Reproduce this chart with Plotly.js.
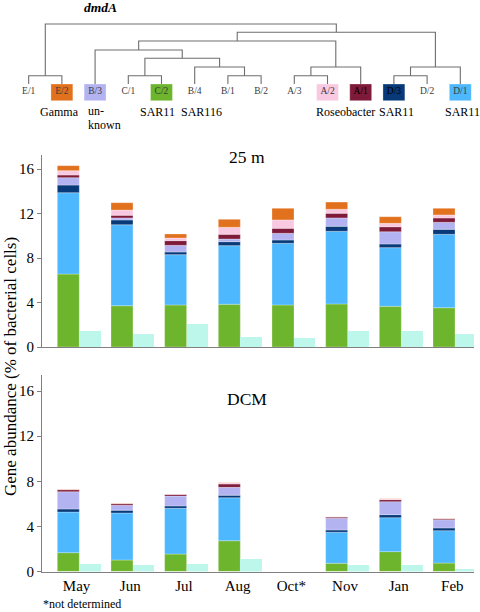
<!DOCTYPE html>
<html><head><meta charset="utf-8">
<script src="https://cdn.plot.ly/plotly-3.0.1.min.js"></script>
<style>html,body{margin:0;padding:0;background:#fff}</style>
</head><body><div id="chart" style="width:480px;height:612px"></div>
<script>
// ---------- data ----------
const months = ['May','Jun','Jul','Aug','Oct*','Nov','Jan','Feb'];
const seriesNames = ['C/2','D/1','D/3','B/3','A/1','A/2','E/2'];   // stacking order, bottom to top

// 25 m (% of bacterial cells)
const m25_C2 = [6.56,3.71,3.78,3.84,3.78,3.87,3.66,3.53];
const m25_D1 = [7.31,7.28,4.52,5.27,5.54,6.53,5.27,6.60];
const m25_D3 = [0.69,0.43,0.24,0.36,0.30,0.45,0.33,0.45];
const m25_B3 = [0.66,0.18,0.60,0.24,0.60,0.75,1.10,0.63];
const m25_A1 = [0.24,0.24,0.42,0.42,0.45,0.42,0.45,0.39];
const m25_A2 = [0.39,0.47,0.24,0.63,0.75,0.36,0.31,0.27];
const m25_E2 = [0.45,0.66,0.36,0.72,1.05,0.65,0.59,0.60];
const m25_other = [1.47,1.20,2.07,0.93,0.78,1.47,1.44,1.20];

// DCM (Oct not determined)
const dcm_C2 = [1.67,1.02,1.55,2.73,null,0.73,1.76,0.75];
const dcm_D1 = [3.60,4.17,4.05,3.81,null,2.75,3.01,2.87];
const dcm_D3 = [0.27,0.24,0.21,0.22,null,0.20,0.27,0.24];
const dcm_B3 = [1.53,0.44,0.88,0.70,null,1.04,1.15,0.73];
const dcm_A1 = [0.18,0.14,0.15,0.30,null,0.11,0.18,0.09];
const dcm_A2 = [0.04,0.04,0.02,0.11,null,0.02,0.08,0.02];
const dcm_E2 = [0.03,0.02,0.01,0.02,null,0.01,0.02,0.01];
const dcm_other = [0.69,0.60,0.69,1.08,null,0.60,0.60,0.22];

// dendrogram
const leaves = ['E/1','E/2','B/3','C/1','C/2','B/4','B/1','B/2','A/3','A/2','A/1','D/3','D/2','D/1'];
const merges = [ // [left, right, height]; result of row k is node 'n'+k
  ['E/1','E/2',8.3], ['C/1','C/2',8.3], ['B/1','B/2',8.3], ['A/3','A/2',8.3], ['D/3','D/2',8.3],
  ['B/4','n2',17], ['n3','A/1',17], ['n4','D/1',17],
  ['n1','n5',25.7], ['B/3','n8',34], ['n9','n6',43], ['n10','n7',51.7], ['n0','n11',60]
];
const groupLabels = [
  {text:'Gamma', leaf:'E/2', dx:-2}, {text:'SAR11', leaf:'C/2', dx:-4}, {text:'SAR116', leaf:'B/4', dx:7},
  {text:'Roseobacter', leaf:'A/2', leaf2:'A/1', dx:1}, {text:'SAR11', leaf:'D/3', dx:3}, {text:'SAR11', leaf:'D/1', dx:2}
];

// ---------- styles ----------
const colors = {'E/2':'#E2711D','B/3':'#B3B3F2','C/2':'#6DB52D','A/2':'#F9C9E1','A/1':'#7E1A3A','D/3':'#083A7A','D/1':'#4DB8FD'};
const otherColor = '#BDF7EC';
const FONT = '"Liberation Serif", "Times New Roman", serif';
const AX = '#808080';

const idx = months.map((m,i)=>i);
const traces = [];
function addPanel(series, other, xa, ya){
  const base = idx.map(()=>0);
  series.forEach((vals,k)=>{
    const name = seriesNames[k];
    traces.push({type:'bar', x:idx, y:vals, base:base.slice(), xaxis:xa, yaxis:ya,
      width:0.41, offset:-0.41, marker:{color:colors[name], line:{color:'rgba(255,255,255,0.55)', width:0.5}},
      showlegend:false, hoverinfo:'skip'});
    vals.forEach((v,i)=>{ if(v!=null) base[i]+=v; });
  });
  traces.push({type:'bar', x:idx, y:other, xaxis:xa, yaxis:ya, width:0.40, offset:0,
    marker:{color:otherColor, line:{width:0}}, showlegend:false, hoverinfo:'skip'});
}
addPanel([m25_C2,m25_D1,m25_D3,m25_B3,m25_A1,m25_A2,m25_E2], m25_other, 'x','y');
addPanel([dcm_C2,dcm_D1,dcm_D3,dcm_B3,dcm_A1,dcm_A2,dcm_E2], dcm_other, 'x2','y2');

// dendrogram geometry from linkage
const pos = {}, hgt = {};
leaves.forEach((l,i)=>{pos[l]=i; hgt[l]=0;});
const lx=[], ly=[];
merges.forEach(([a,b,h],k)=>{
  lx.push(pos[a],pos[a],pos[b],pos[b],null);
  ly.push(hgt[a],h,h,hgt[b],null);
  pos['n'+k]=(pos[a]+pos[b])/2; hgt['n'+k]=h;
});
traces.push({type:'scatter', mode:'lines', x:lx, y:ly, xaxis:'x4', yaxis:'y4',
  line:{color:'#6e6e6e', width:1.1}, showlegend:false, hoverinfo:'skip'});
// colored leaf boxes
traces.push({type:'bar', x:leaves.map((l,i)=>i), y:leaves.map(l=>colors[l]?16.7:null), base:-16.7,
  width:0.66, xaxis:'x4', yaxis:'y4', marker:{color:leaves.map(l=>colors[l]||'rgba(0,0,0,0)'),
  line:{color:'rgba(255,255,255,0.5)', width:0.6}}, showlegend:false, hoverinfo:'skip'});
// leaf labels
traces.push({type:'scatter', mode:'text', x:leaves.map((l,i)=>i), y:leaves.map(()=>-7.5), text:leaves,
  textfont:{family:FONT, size:9.5, color:leaves.map(l=>(l==='A/1'||l==='D/3')?'#000':'#3a3a3a')},
  xaxis:'x4', yaxis:'y4', showlegend:false, hoverinfo:'skip'});

const annotations = [];
groupLabels.forEach(g=>{
  const x = g.leaf2 ? (pos[g.leaf]+pos[g.leaf2])/2 : pos[g.leaf];
  annotations.push({xref:'x4', yref:'y4', x:x, y:-28, xshift:g.dx, text:g.text, showarrow:false,
    font:{family:FONT, size:12, color:'#000'}, xanchor:'center', yanchor:'middle'});
});
annotations.push({xref:'x4', yref:'y4', x:pos['B/3'], y:-26.5, xshift:-9, text:'un-', showarrow:false,
  font:{family:FONT, size:12, color:'#000'}, xanchor:'left', yanchor:'middle'});
annotations.push({xref:'x4', yref:'y4', x:pos['B/3'], y:-41, xshift:-9, text:'known', showarrow:false,
  font:{family:FONT, size:12, color:'#000'}, xanchor:'left', yanchor:'middle'});
annotations.push({xref:'paper', yref:'paper', x:100/480, y:(612-8)/612, text:'<b><i>dmdA</i></b>', showarrow:false,
  font:{family:FONT, size:13.5, color:'#000'}, xanchor:'center', yanchor:'middle'});
annotations.push({xref:'paper', yref:'paper', x:247/480, y:(612-157)/612, text:'25 m', showarrow:false,
  font:{family:FONT, size:17.5, color:'#000'}, xanchor:'center', yanchor:'middle'});
annotations.push({xref:'paper', yref:'paper', x:247/480, y:(612-399)/612, text:'DCM', showarrow:false,
  font:{family:FONT, size:17.5, color:'#000'}, xanchor:'center', yanchor:'middle'});
annotations.push({xref:'paper', yref:'paper', x:10/480, y:(612-367)/612, text:'Gene abundance (% of bacterial cells)',
  textangle:-90, showarrow:false, font:{family:FONT, size:17, color:'#000'}, xanchor:'center', yanchor:'middle'});
annotations.push({xref:'paper', yref:'paper', x:41/480, y:(612-604)/612, text:'*not determined', showarrow:false,
  font:{family:FONT, size:12, color:'#000'}, xanchor:'left', yanchor:'middle'});

const yCommon = {showline:true, linecolor:AX, linewidth:1, ticks:'outside', ticklen:4, tickcolor:AX, tickwidth:1,
  tickvals:[0,4,8,12,16], tickfont:{family:FONT, size:15, color:'#000'}, showgrid:false, zeroline:false, fixedrange:true};
const xCommon = {range:[-0.695,7.354], showline:true, linecolor:AX, linewidth:1, showgrid:false, zeroline:false, fixedrange:true};

const layout = {
  width:480, height:612, margin:{l:0,r:0,t:0,b:0}, paper_bgcolor:'#fff', plot_bgcolor:'rgba(0,0,0,0)',
  font:{family:FONT},
  barmode:'overlay', bargap:0, showlegend:false, hovermode:false,
  xaxis: Object.assign({}, xCommon, {domain:[42/480,474/480], anchor:'y', ticks:'', showticklabels:false}),
  yaxis: Object.assign({}, yCommon, {domain:[(612-347)/612,(612-155)/612], range:[0,17.26], anchor:'x'}),
  xaxis2: Object.assign({}, xCommon, {domain:[42/480,474/480], anchor:'y2', ticks:'',
    tickmode:'array', tickvals:idx.map(i=>i-0.05), ticktext:months, tickfont:{family:FONT, size:15, color:'#000'}}),
  yaxis2: Object.assign({}, yCommon, {domain:[(612-571.5)/612,(612-375)/612], range:[0,17.42], anchor:'x2'}),
  xaxis3: {overlaying:'x2', anchor:'y2', range:[-0.484,7.689], tickmode:'array', tickvals:idx.map(i=>i+0.5),
    ticks:'outside', ticklen:3, tickcolor:AX, showticklabels:false, showline:false, showgrid:false, zeroline:false, fixedrange:true},
  xaxis4: {domain:[0,1], anchor:'y4', range:[-0.864,13.593], visible:false, fixedrange:true},
  yaxis4: {domain:[(612-130)/612,1], anchor:'x4', range:[-46,84], visible:false, fixedrange:true},
  annotations: annotations
};
Plotly.newPlot('chart', traces, layout, {displayModeBar:false, staticPlot:true});
</script></body></html>
